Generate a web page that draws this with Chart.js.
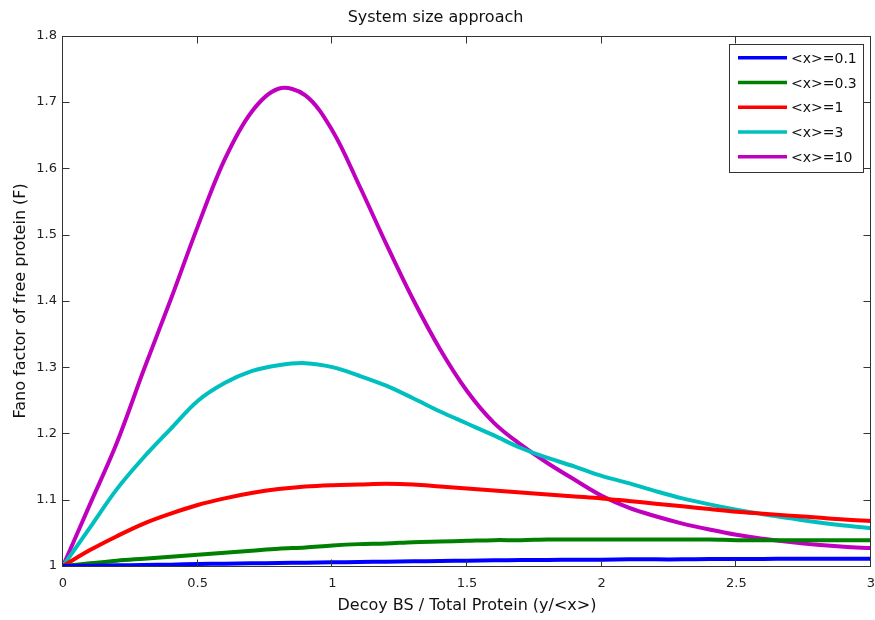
<!DOCTYPE html>
<html><head><meta charset="utf-8">
<script src="https://cdn.jsdelivr.net/npm/chart.js@4"></script>
<style>html,body{margin:0;padding:0;background:#fff}#wrap{width:875px;height:620px}</style>
</head><body><div id="wrap"><canvas id="c" width="875" height="620"></canvas></div>
<script>
const xValues = [0,0.1,0.2,0.3,0.4,0.5,0.6,0.7,0.8,0.9,1.0,1.1,1.2,1.3,1.4,1.5,1.6,1.7,1.8,1.9,2.0,2.1,2.2,2.3,2.4,2.5,2.6,2.7,2.8,2.9,3.0];
const seriesLabels = ['<x>=0.1','<x>=0.3','<x>=1','<x>=3','<x>=10'];
const fanoX01 = [1.0,1.0005,1.001,1.0015,1.002,1.003,1.0035,1.004,1.0045,1.005,1.0055,1.006,1.0065,1.007,1.0075,1.008,1.0085,1.009,1.009,1.0095,1.0095,1.010,1.010,1.010,1.0105,1.0105,1.0105,1.011,1.011,1.011,1.011];
const fanoX03 = [1.0,1.004,1.008,1.011,1.014,1.017,1.020,1.023,1.026,1.028,1.031,1.033,1.034,1.036,1.037,1.038,1.039,1.039,1.040,1.040,1.040,1.040,1.040,1.040,1.040,1.039,1.039,1.039,1.039,1.039,1.039];
const fanoX1 = [1.0,1.024,1.045,1.064,1.079,1.092,1.102,1.110,1.116,1.120,1.122,1.123,1.124,1.123,1.120,1.117,1.114,1.111,1.108,1.105,1.102,1.098,1.094,1.090,1.086,1.082,1.079,1.076,1.073,1.070,1.068];
const fanoX3 = [1.0,1.058,1.116,1.164,1.207,1.249,1.276,1.294,1.303,1.306,1.300,1.287,1.272,1.253,1.233,1.215,1.197,1.178,1.163,1.150,1.136,1.125,1.113,1.102,1.093,1.085,1.078,1.072,1.066,1.061,1.057];
const fanoX10 = [1.0,1.093,1.186,1.296,1.402,1.512,1.613,1.685,1.720,1.710,1.657,1.574,1.486,1.402,1.327,1.264,1.216,1.183,1.155,1.130,1.106,1.088,1.075,1.064,1.055,1.047,1.041,1.036,1.032,1.029,1.027];
const xTickValues = [0,0.5,1,1.5,2,2.5,3];
const yTickValues = [1,1.1,1.2,1.3,1.4,1.5,1.6,1.7,1.8];

const allSeries = [fanoX01, fanoX03, fanoX1, fanoX3, fanoX10];
const colors = ['#0000FF','#008000','#FF0000','#00BFBF','#BF00BF'];
const FONT = "'DejaVu Sans', 'Liberation Sans', Arial, sans-serif";

const datasets = allSeries.map((s, i) => ({
  label: seriesLabels[i],
  data: xValues.map((xv, j) => ({x: xv, y: s[j]})),
  borderColor: colors[i],
  backgroundColor: colors[i],
  borderWidth: 4,
  pointRadius: 0,
  fill: false,
  tension: 0.35,
  clip: 0
}));

const framePlugin = {
  id: 'frame',
  afterDatasetsDraw(chart) {
    const {ctx, chartArea: a, scales: {x, y}} = chart;
    ctx.save();
    ctx.strokeStyle = '#333';
    ctx.lineWidth = 1;
    const L = Math.round(a.left) - 0.5, R = Math.round(a.right) - 0.5;
    const T = Math.round(a.top) + 0.5, B = Math.round(a.bottom) + 0.5;
    ctx.strokeRect(L, T, R - L, B - T);
    ctx.beginPath();
    const tl = 7;
    x.ticks.forEach(t => {
      const p = Math.round(x.getPixelForValue(t.value)) - 0.5;
      ctx.moveTo(p, B); ctx.lineTo(p, B - tl);
      ctx.moveTo(p, T); ctx.lineTo(p, T + tl);
    });
    y.ticks.forEach(t => {
      const p = Math.round(y.getPixelForValue(t.value)) + 0.5;
      ctx.moveTo(L, p); ctx.lineTo(L + tl, p);
      ctx.moveTo(R, p); ctx.lineTo(R - tl, p);
    });
    ctx.stroke();
    ctx.restore();
  },
  afterDraw(chart) {
    const ctx = chart.ctx;
    ctx.save();
    const bx = 729.5, by = 44.5, bw = 134, bh = 128;
    ctx.fillStyle = '#fff';
    ctx.fillRect(bx, by, bw, bh);
    ctx.strokeStyle = '#333';
    ctx.lineWidth = 1;
    ctx.strokeRect(bx, by, bw, bh);
    ctx.font = '14px ' + FONT;
    ctx.textBaseline = 'middle';
    ctx.textAlign = 'left';
    chart.data.datasets.forEach((ds, i) => {
      const yy = 57.7 + i * 24.75;
      ctx.strokeStyle = ds.borderColor;
      ctx.lineWidth = 3.5;
      ctx.beginPath();
      ctx.moveTo(738, yy); ctx.lineTo(787, yy);
      ctx.stroke();
      ctx.fillStyle = '#111';
      ctx.fillText(ds.label, 791, yy + 1.5);
    });
    ctx.restore();
  }
};

new Chart(document.getElementById('c'), {
  type: 'line',
  data: {datasets},
  options: {
    responsive: false,
    animation: false,
    devicePixelRatio: 1,
    layout: {padding: {top: 0, left: 0, right: 4, bottom: 0}},
    plugins: {
      legend: {display: false},
      tooltip: {enabled: false},
      title: {
        display: true,
        text: 'System size approach',
        color: '#111',
        font: {family: FONT, size: 16, weight: 'normal'},
        padding: {top: 8, bottom: 8.5}
      }
    },
    scales: {
      x: {
        type: 'linear',
        min: 0, max: 3,
        grid: {display: false, drawTicks: false},
        border: {display: false},
        afterBuildTicks: s => { s.ticks = xTickValues.map(v => ({value: v})); },
        afterFit: s => { s.height = 54; s.paddingLeft = 0; s.paddingRight = 0; },
        ticks: {
          color: '#222', padding: 10, maxRotation: 0,
          font: {family: FONT, size: 13},
          callback: v => String(v)
        },
        title: {
          display: true,
          text: 'Decoy BS / Total Protein (y/<x>)',
          color: '#111',
          font: {family: FONT, size: 16},
          padding: {top: 0, bottom: 5}
        }
      },
      y: {
        type: 'linear',
        min: 1, max: 1.8,
        grid: {display: false, drawTicks: false},
        border: {display: false},
        afterBuildTicks: s => { s.ticks = yTickValues.map(v => ({value: v})); },
        afterFit: s => { s.width = 63; s.paddingTop = 0; s.paddingBottom = 0; },
        ticks: {
          color: '#222', padding: 6,
          font: {family: FONT, size: 13},
          callback: v => String(Math.round(v * 10) / 10)
        },
        title: {
          display: true,
          text: 'Fano factor of free protein (F)',
          color: '#111',
          font: {family: FONT, size: 16},
          padding: {top: 11, bottom: 0}
        }
      }
    }
  },
  plugins: [framePlugin]
});
</script>
</body></html>
